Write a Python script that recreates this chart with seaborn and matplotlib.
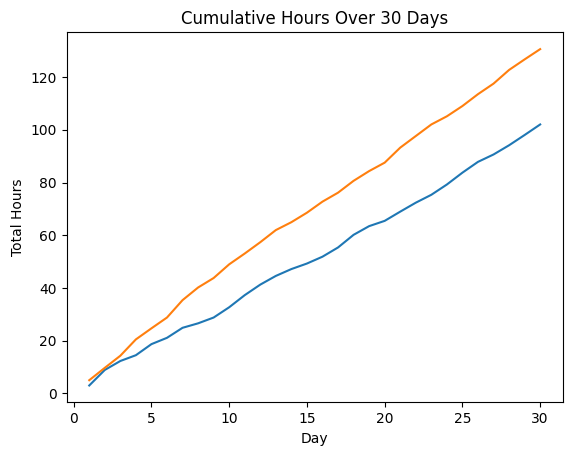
import matplotlib
matplotlib.use("Agg")
import matplotlib.pyplot as plt
import pandas as pd
import seaborn as sns

days = list(range(1, 31))
hours_a = [3.0, 8.9, 12.3, 14.5, 18.7, 21.1, 24.9, 26.6, 28.8, 32.7,
           37.3, 41.3, 44.6, 47.2, 49.3, 51.9, 55.4, 60.2, 63.5, 65.5,
           69.0, 72.4, 75.4, 79.3, 83.8, 87.9, 90.7, 94.2, 98.1, 102.1]
hours_b = [5.0, 9.7, 14.3, 20.5, 24.7, 28.8, 35.4, 40.2, 43.8, 49.0,
           53.1, 57.4, 62.0, 65.0, 68.6, 72.8, 76.2, 80.7, 84.4, 87.6,
           93.3, 97.7, 102.1, 105.2, 109.1, 113.6, 117.6, 122.8, 126.8, 130.7]

df = pd.DataFrame({"day": days, "a": hours_a, "b": hours_b})

fig, ax = plt.subplots(figsize=(5.71, 4.55), dpi=100)
fig.subplots_adjust(left=0.1168, right=0.9855, top=0.929, bottom=0.1158)

sns.lineplot(data=df, x="day", y="a", ax=ax, color="C0")
sns.lineplot(data=df, x="day", y="b", ax=ax, color="C1")

ax.set_title("Cumulative Hours Over 30 Days")
ax.set_xlabel("Day")
ax.set_ylabel("Total Hours")

fig.savefig("out.png", dpi=100)
